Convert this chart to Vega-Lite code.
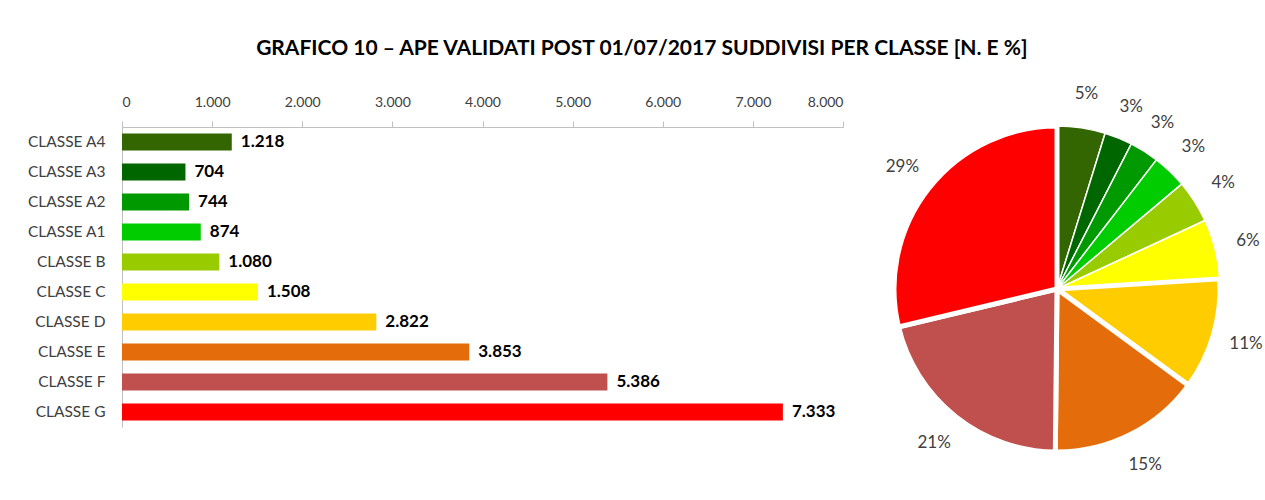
{
  "$schema": "https://vega.github.io/schema/vega-lite/v6.json",
  "background": "white",
  "padding": {"left": 26, "top": 38, "right": 5, "bottom": 5},
  "bounds": "flush",
  "config": {
    "locale": {"number": {"decimal": ",", "thousands": ".", "grouping": [3], "currency": ["€", ""]}},
    "font": "Lato",
    "view": {"stroke": null},
    "concat": {"spacing": 44}
  },
  "title": {
    "text": "GRAFICO 10 – APE VALIDATI POST 01/07/2017 SUDDIVISI PER CLASSE [N. E %]",
    "fontSize": 21,
    "fontWeight": "bold",
    "font": "Lato",
    "color": "#000000",
    "anchor": "middle",
    "dx": -3,
    "offset": 26
  },
  "data": {
    "values": [
      {"classe": "CLASSE A4", "ord": 1, "value": 1218, "pct": 0.05},
      {"classe": "CLASSE A3", "ord": 2, "value": 704, "pct": 0.03},
      {"classe": "CLASSE A2", "ord": 3, "value": 744, "pct": 0.03},
      {"classe": "CLASSE A1", "ord": 4, "value": 874, "pct": 0.03},
      {"classe": "CLASSE B", "ord": 5, "value": 1080, "pct": 0.04},
      {"classe": "CLASSE C", "ord": 6, "value": 1508, "pct": 0.06},
      {"classe": "CLASSE D", "ord": 7, "value": 2822, "pct": 0.11},
      {"classe": "CLASSE E", "ord": 8, "value": 3853, "pct": 0.15},
      {"classe": "CLASSE F", "ord": 9, "value": 5386, "pct": 0.21},
      {"classe": "CLASSE G", "ord": 10, "value": 7333, "pct": 0.29}
    ]
  },
  "hconcat": [
    {
      "width": 721,
      "height": 300,
      "encoding": {
        "y": {
          "field": "classe",
          "type": "nominal",
          "sort": {"field": "ord", "order": "ascending"},
          "scale": {"paddingInner": 0.43, "paddingOuter": 0.215},
          "axis": {
            "title": null,
            "ticks": false,
            "domain": true,
            "domainColor": "#bfbfbf",
            "labelFontSize": 15.5,
            "labelColor": "#404040",
            "labelPadding": 17,
            "labelFont": "Lato"
          }
        },
        "x": {
          "field": "value",
          "type": "quantitative",
          "scale": {"domain": [0, 8000], "nice": false},
          "axis": {
            "orient": "top",
            "title": null,
            "values": [0, 1000, 2000, 3000, 4000, 5000, 6000, 7000, 8000],
            "format": ",d",
            "grid": false,
            "domainColor": "#bfbfbf",
            "tickColor": "#bfbfbf",
            "tickSize": 6,
            "labelPadding": 12,
            "labelFontSize": 14,
            "labelColor": "#404040",
            "labelFont": "Lato"
          }
        }
      },
      "layer": [
        {
          "mark": {"type": "bar"},
          "encoding": {
            "color": {
              "field": "classe",
              "type": "nominal",
              "legend": null,
              "scale": {
                "domain": ["CLASSE A4", "CLASSE A3", "CLASSE A2", "CLASSE A1", "CLASSE B", "CLASSE C", "CLASSE D", "CLASSE E", "CLASSE F", "CLASSE G"],
                "range": ["#336600", "#006600", "#009900", "#00CC00", "#99CC00", "#FFFF00", "#FFCC00", "#E46C0A", "#C0504D", "#FF0000"]
              }
            }
          }
        },
        {
          "mark": {"type": "text", "align": "left", "baseline": "middle", "dx": 9, "fontWeight": "bold", "fontSize": 17, "color": "#000000", "font": "Lato"},
          "encoding": {
            "text": {"field": "value", "type": "quantitative", "format": ",d"}
          }
        }
      ]
    },
    {
      "width": 340,
      "height": 324,
      "encoding": {
        "theta": {"field": "value", "type": "quantitative", "stack": true},
        "order": {"field": "ord", "type": "quantitative"}
      },
      "layer": [
        {
          "mark": {"type": "arc", "outerRadius": 163, "stroke": "white"},
          "encoding": {
            "color": {
              "field": "classe",
              "type": "nominal",
              "legend": null,
              "scale": {
                "domain": ["CLASSE A4", "CLASSE A3", "CLASSE A2", "CLASSE A1", "CLASSE B", "CLASSE C", "CLASSE D", "CLASSE E", "CLASSE F", "CLASSE G"],
                "range": ["#336600", "#006600", "#009900", "#00CC00", "#99CC00", "#FFFF00", "#FFCC00", "#E46C0A", "#C0504D", "#FF0000"]
              }
            },
            "strokeWidth": {"condition": {"test": "datum.value > 2000", "value": 5}, "value": 1.5}
          }
        },
        {
          "mark": {"type": "text", "radius": 197, "fontSize": 17, "color": "#404040", "font": "Lato"},
          "encoding": {
            "text": {"field": "pct", "type": "quantitative", "format": ".0%"}
          }
        }
      ]
    }
  ]
}
